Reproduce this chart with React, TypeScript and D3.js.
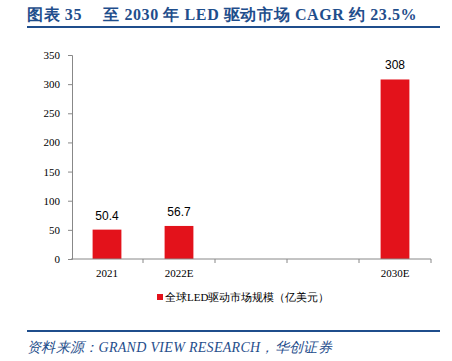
import * as d3 from "d3";
import { useEffect, useRef } from "react";

const categories = ["2021", "2022E", "", "", "2030E"];
const values: (number | null)[] = [50.4, 56.7, null, null, 308];
const yTicks = [0, 50, 100, 150, 200, 250, 300, 350];
const seriesName = "全球LED驱动市场规模（亿美元）";
const title = "图表 35\u3000 至 2030 年 LED 驱动市场 CAGR 约 23.5%";
const source = "资料来源：GRAND VIEW RESEARCH，华创证券";

const width = 452;
const height = 361;
const marginLeft = 72;
const marginRight = 21;
const marginTop = 55;
const marginBottom = 102;

const navy = "#1f4e8c";
const red = "#e3121b";
const serif = "'Liberation Serif', 'Times New Roman', serif";

const App = () => {
  const axisRef = useRef<SVGGElement>(null);

  const x = d3
    .scaleBand<number>()
    .domain(categories.map((_, i) => i))
    .range([marginLeft - 1, width - marginRight])
    .paddingInner(0)
    .paddingOuter(0);
  const y = d3
    .scaleLinear()
    .domain([0, 350])
    .range([height - marginBottom, marginTop]);

  useEffect(() => {
    const g = d3.select(axisRef.current);
    g.selectAll("*").remove();
    const yAxis = g
      .append("g")
      .attr("transform", `translate(${marginLeft},0)`)
      .call(d3.axisLeft(y).tickValues(yTicks).tickSize(4).tickPadding(8));
    yAxis.select(".domain").attr("stroke", "#888");
    yAxis.selectAll(".tick line").attr("stroke", "#888");
    yAxis
      .selectAll(".tick text")
      .attr("font-family", serif)
      .attr("font-size", 11)
      .attr("fill", "#000");

    const base = y(0);
    const xg = g.append("g");
    xg.append("line")
      .attr("x1", x.range()[0])
      .attr("x2", x.range()[1])
      .attr("y1", base)
      .attr("y2", base)
      .attr("stroke", "#888");
    const bounds = categories.map((_, i) => x(i)! + x.bandwidth());
    xg.selectAll("line.tk")
      .data(bounds)
      .join("line")
      .attr("class", "tk")
      .attr("x1", (d) => d)
      .attr("x2", (d) => d)
      .attr("y1", base)
      .attr("y2", base + 4)
      .attr("stroke", "#888");
    xg.selectAll("text")
      .data(categories)
      .join("text")
      .attr("x", (_, i) => x(i)! + x.bandwidth() / 2)
      .attr("y", base + 18)
      .attr("text-anchor", "middle")
      .attr("font-family", serif)
      .attr("font-size", 11)
      .text((d) => d);
  }, []);

  const barW = x.bandwidth() * 0.4;

  return (
    <svg width={width} height={height} style={{ position: "absolute", left: 0, top: 0 }}>
      <rect width={width} height={height} fill="#fff" />
      <text
        x={27}
        y={20}
        fontFamily={serif}
        fontWeight="bold"
        fontSize={16}
        letterSpacing={0.6}
        fill={navy}
      >
        {title}
      </text>
      <line x1={27} x2={440} y1={27} y2={27} stroke={navy} strokeWidth={2} />

      {values.map((v, i) =>
        v == null ? null : (
          <g key={i}>
            <rect
              x={x(i)! + (x.bandwidth() - barW) / 2}
              y={y(v)}
              width={barW}
              height={y(0) - y(v)}
              fill={red}
            />
            <text
              x={x(i)! + x.bandwidth() / 2}
              y={y(v) - 10}
              textAnchor="middle"
              fontFamily="'Liberation Sans', Arial, sans-serif"
              fontSize={12}
              fill="#000"
            >
              {v}
            </text>
          </g>
        )
      )}
      <g ref={axisRef} />

      <rect x={157} y={294} width={6} height={6} fill={red} />
      <text x={165} y={301} fontFamily={serif} fontSize={11} fill="#000">
        {seriesName}
      </text>

      <line x1={27} x2={440} y1={331} y2={331} stroke={navy} strokeWidth={2} />
      <text
        x={27}
        y={352}
        fontFamily={serif}
        fontStyle="italic"
        fontSize={14}
        letterSpacing={0.3}
        fill={navy}
      >
        {source}
      </text>
    </svg>
  );
};

export default App;
